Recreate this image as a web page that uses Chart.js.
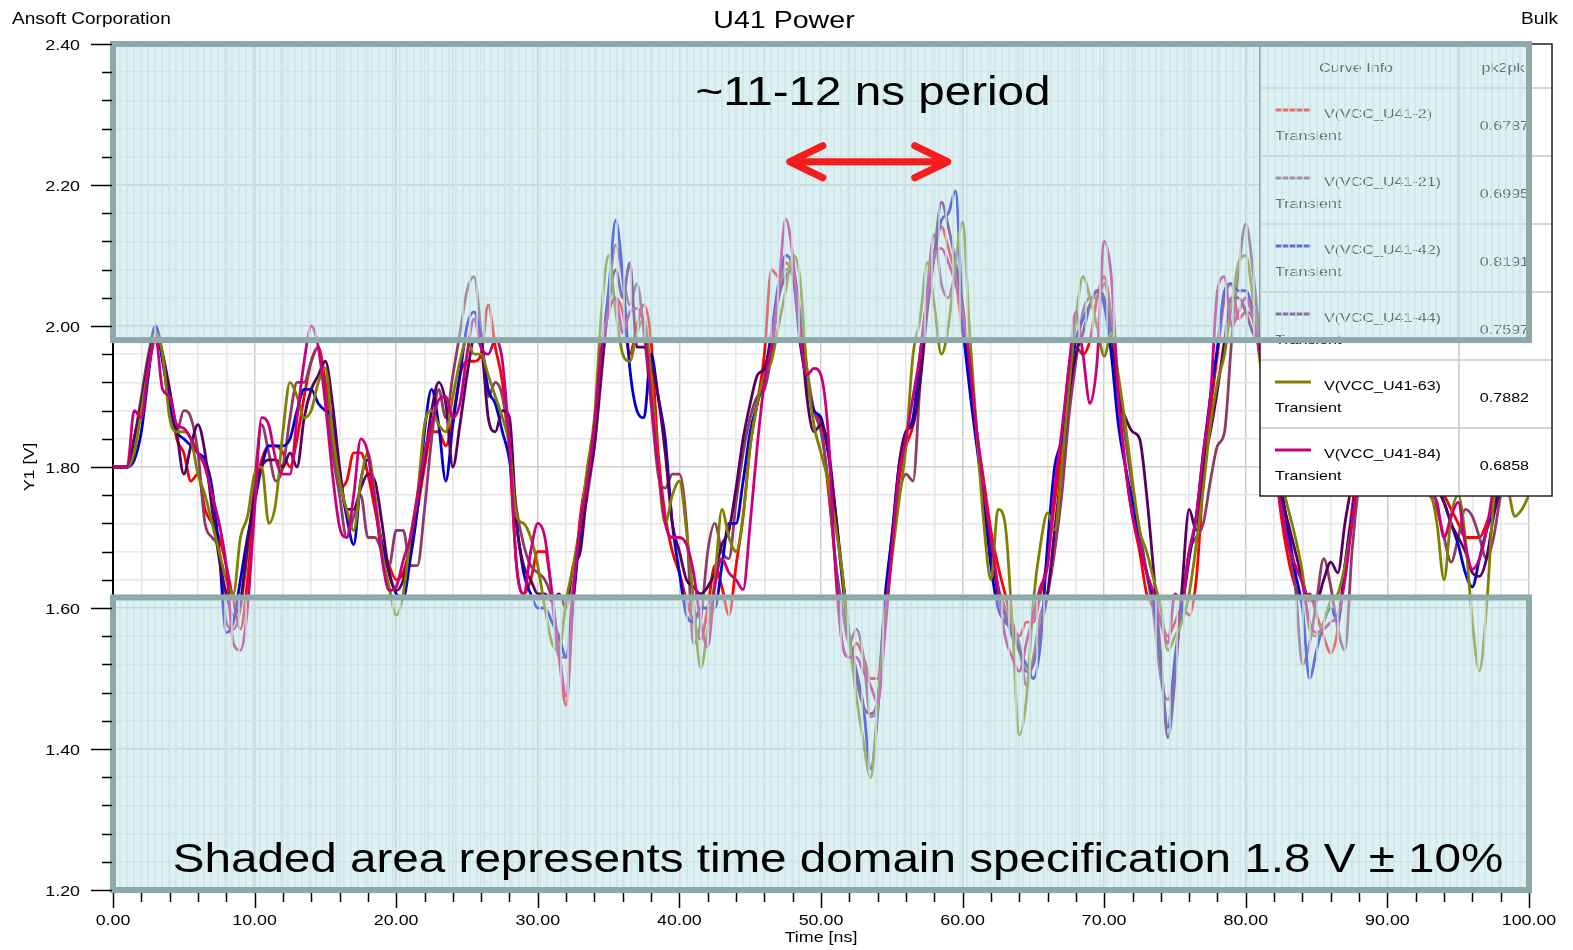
<!DOCTYPE html>
<html>
<head>
<meta charset="utf-8">
<title>U41 Power</title>
<script src="https://cdn.jsdelivr.net/npm/chart.js@4.4.1/dist/chart.umd.min.js"></script>
<style>
  html, body { margin: 0; padding: 0; background: #fff; }
  #wrap { width: 1573px; height: 950px; position: relative; }
</style>
</head>
<body>
<div id="wrap"><canvas id="myChart"></canvas></div>
<script>
// time base, ns (0.5 ns steps)
const times = Array.from({length: 201}, (_, i) => i * 0.5)

// V(VCC_U41-2)
const vcc2 = [
  1.80,1.80,1.80,1.84,1.89,1.94,1.98,1.96,1.90,1.84,
  1.82,1.78,1.79,1.74,1.72,1.70,1.66,1.61,1.57,1.64,
  1.76,1.81,1.83,1.83,1.82,1.80,1.84,1.90,1.95,1.97,
  1.92,1.84,1.77,1.78,1.82,1.82,1.79,1.74,1.69,1.66,
  1.64,1.65,1.69,1.74,1.80,1.85,1.85,1.83,1.87,1.93,
  1.95,1.95,1.96,2.03,1.97,1.92,1.82,1.66,1.62,1.64,
  1.68,1.68,1.62,1.53,1.462,1.61,1.73,1.79,1.86,1.96,
  2.02,2.04,2.02,1.96,2.00,2.03,1.98,1.82,1.73,1.68,
  1.65,1.61,1.58,1.556,1.60,1.66,1.63,1.59,1.66,1.73,
  1.83,1.89,1.96,2.08,2.07,2.09,2.07,2.00,1.93,1.88,
  1.86,1.77,1.67,1.55,1.53,1.55,1.53,1.50,1.50,1.60,
  1.70,1.78,1.83,1.86,1.94,2.03,2.10,2.1407,2.11,2.07,
  1.99,1.94,1.85,1.78,1.71,1.66,1.62,1.58,1.56,1.58,
  1.58,1.62,1.67,1.75,1.83,1.94,1.97,1.96,1.98,2.04,
  2.07,2.01,1.90,1.80,1.73,1.68,1.62,1.60,1.58,1.56,
  1.58,1.60,1.59,1.64,1.78,1.88,1.96,2.04,2.06,2.01,
  2.02,2.01,1.97,1.90,1.82,1.73,1.67,1.63,1.61,1.62,
  1.59,1.56,1.536,1.57,1.66,1.74,1.82,1.88,1.92,1.94,
  1.94,1.92,1.88,1.84,1.80,1.78,1.77,1.77,1.76,1.74,
  1.72,1.70,1.70,1.70,1.72,1.75,1.79,1.81,1.82,1.82,
  1.81]

// V(VCC_U41-21)
const vcc21 = [
  1.80,1.80,1.80,1.84,1.90,1.96,2.00,1.96,1.88,1.85,
  1.88,1.87,1.82,1.72,1.70,1.68,1.58,1.57,1.60,1.68,
  1.78,1.86,1.82,1.78,1.80,1.87,1.92,1.92,1.95,1.97,
  1.90,1.82,1.76,1.70,1.73,1.76,1.70,1.70,1.68,1.66,
  1.71,1.71,1.66,1.66,1.74,1.84,1.91,1.87,1.93,1.99,
  2.05,2.07,1.99,1.90,1.92,1.90,1.83,1.74,1.69,1.66,
  1.65,1.64,1.61,1.53,1.53,1.63,1.70,1.76,1.83,1.93,
  2.04,2.115,2.07,2.03,2.06,1.99,1.89,1.79,1.77,1.79,
  1.79,1.72,1.55,1.58,1.68,1.72,1.68,1.67,1.75,1.82,
  1.87,1.90,1.91,1.96,2.04,2.08,2.08,2.02,1.94,1.88,
  1.85,1.78,1.67,1.60,1.55,1.57,1.53,1.4455,1.46,1.58,
  1.69,1.76,1.79,1.78,1.92,2.05,2.13,2.06,2.04,2.07,
  2.01,1.94,1.84,1.75,1.68,1.63,1.60,1.57,1.55,1.49,
  1.53,1.59,1.62,1.68,1.76,1.87,1.95,2.02,2.04,2.04,
  2.06,2.01,1.92,1.84,1.77,1.71,1.65,1.59,1.50,1.47,
  1.52,1.61,1.68,1.70,1.72,1.78,1.83,1.85,1.98,2.08,
  2.145,2.08,1.98,1.90,1.82,1.75,1.69,1.63,1.52,1.55,
  1.61,1.67,1.63,1.57,1.54,1.68,1.78,1.85,1.90,1.93,
  1.94,1.92,1.88,1.84,1.80,1.78,1.76,1.74,1.70,1.665,
  1.70,1.74,1.73,1.70,1.67,1.70,1.76,1.79,1.80,1.81,
  1.81]

// V(VCC_U41-42)
const vcc42 = [
  1.80,1.80,1.80,1.81,1.85,1.93,2.00,1.95,1.89,1.85,
  1.84,1.83,1.82,1.81,1.77,1.68,1.565,1.58,1.64,1.70,
  1.75,1.80,1.83,1.83,1.83,1.84,1.88,1.91,1.91,1.89,
  1.88,1.87,1.79,1.73,1.69,1.78,1.81,1.75,1.69,1.65,
  1.62,1.615,1.67,1.74,1.85,1.91,1.86,1.78,1.86,1.93,
  2.00,2.02,1.98,1.91,1.89,1.85,1.81,1.72,1.65,1.62,
  1.60,1.60,1.58,1.56,1.53,1.61,1.71,1.78,1.86,1.96,
  2.05,2.15,2.07,1.94,1.88,1.87,1.96,1.90,1.84,1.72,
  1.65,1.59,1.58,1.60,1.60,1.60,1.66,1.72,1.72,1.78,
  1.85,1.89,1.93,1.99,2.06,2.10,2.08,1.98,1.92,1.88,
  1.87,1.82,1.74,1.64,1.556,1.51,1.46,1.372,1.45,1.61,
  1.70,1.80,1.85,1.87,1.96,2.04,2.10,2.15,2.16,2.1911,
  2.01,1.91,1.83,1.75,1.66,1.60,1.58,1.57,1.54,1.52,
  1.50,1.55,1.69,1.80,1.84,1.92,1.98,2.01,2.03,2.05,
  2.03,1.96,1.86,1.80,1.75,1.69,1.65,1.61,1.52,1.43,
  1.53,1.60,1.67,1.73,1.82,1.90,1.97,2.05,2.06,2.05,
  2.05,2.02,1.96,1.88,1.81,1.77,1.71,1.65,1.60,1.50,
  1.54,1.58,1.60,1.58,1.66,1.73,1.80,1.86,1.90,1.93,
  1.93,1.91,1.88,1.84,1.81,1.79,1.78,1.77,1.75,1.72,
  1.69,1.65,1.63,1.67,1.71,1.74,1.78,1.80,1.81,1.81,
  1.80]

// V(VCC_U41-44)
const vcc44 = [
  1.80,1.80,1.80,1.84,1.89,1.95,1.99,1.96,1.91,1.85,
  1.79,1.83,1.86,1.82,1.74,1.67,1.62,1.59,1.61,1.69,
  1.76,1.80,1.81,1.81,1.80,1.82,1.80,1.87,1.91,1.93,
  1.95,1.89,1.80,1.74,1.74,1.77,1.79,1.78,1.72,1.65,
  1.625,1.64,1.69,1.75,1.81,1.88,1.92,1.89,1.80,1.86,
  1.93,1.98,1.97,1.87,1.85,1.88,1.87,1.72,1.66,1.64,
  1.62,1.62,1.61,1.62,1.60,1.66,1.68,1.77,1.83,1.94,
  2.03,2.08,2.04,2.09,1.97,1.97,1.95,1.90,1.82,1.72,
  1.68,1.64,1.63,1.62,1.63,1.65,1.69,1.71,1.77,1.84,
  1.89,1.93,1.94,1.98,2.04,2.07,2.08,2.01,1.90,1.85,
  1.86,1.83,1.74,1.65,1.56,1.50,1.46,1.45,1.47,1.58,
  1.69,1.80,1.85,1.86,1.92,2.02,2.10,2.1757,2.14,2.09,
  2.03,1.94,1.84,1.76,1.69,1.62,1.59,1.56,1.54,1.51,
  1.52,1.57,1.62,1.71,1.80,1.90,1.96,1.99,2.03,2.05,
  2.04,1.99,1.90,1.87,1.85,1.84,1.76,1.65,1.53,1.416,
  1.50,1.63,1.74,1.71,1.80,1.85,1.91,1.98,2.04,2.04,
  2.02,1.99,1.97,1.90,1.82,1.76,1.72,1.68,1.64,1.61,
  1.61,1.64,1.665,1.65,1.72,1.78,1.85,1.90,1.93,1.95,
  1.95,1.93,1.90,1.86,1.83,1.80,1.78,1.77,1.75,1.72,
  1.70,1.68,1.65,1.645,1.67,1.73,1.77,1.80,1.81,1.82,
  1.82]

// V(VCC_U41-63)
const vcc63 = [
  1.80,1.80,1.80,1.82,1.88,1.94,1.99,1.96,1.87,1.85,
  1.85,1.84,1.79,1.76,1.72,1.68,1.64,1.62,1.70,1.73,
  1.79,1.80,1.72,1.75,1.85,1.92,1.90,1.87,1.88,1.92,
  1.94,1.85,1.78,1.74,1.71,1.78,1.82,1.76,1.68,1.63,
  1.59,1.62,1.70,1.76,1.86,1.88,1.86,1.85,1.90,1.95,
  1.98,1.96,1.96,1.93,1.90,1.87,1.83,1.73,1.72,1.70,
  1.66,1.60,1.55,1.54,1.61,1.66,1.72,1.80,1.87,2.02,
  2.10,2.02,1.96,1.95,1.99,2.01,1.93,1.80,1.72,1.76,
  1.78,1.71,1.61,1.515,1.57,1.64,1.74,1.70,1.68,1.73,
  1.83,1.89,1.93,1.95,2.00,2.05,2.10,2.07,1.94,1.86,
  1.82,1.78,1.72,1.65,1.556,1.474,1.41,1.359,1.46,1.58,
  1.67,1.75,1.83,1.96,2.01,2.09,2.03,1.96,2.00,2.09,
  2.1472,1.99,1.85,1.72,1.64,1.74,1.72,1.58,1.42,1.47,
  1.61,1.69,1.735,1.71,1.80,1.91,2.01,2.07,2.04,2.00,
  1.957,1.99,1.93,1.86,1.78,1.71,1.68,1.64,1.60,1.54,
  1.56,1.58,1.62,1.69,1.77,1.86,1.92,1.96,2.03,2.09,
  2.10,2.04,1.95,1.88,1.82,1.78,1.74,1.70,1.65,1.57,
  1.56,1.58,1.61,1.62,1.66,1.72,1.79,1.85,1.90,1.93,
  1.94,1.92,1.89,1.85,1.81,1.79,1.77,1.72,1.64,1.73,
  1.76,1.70,1.58,1.511,1.60,1.75,1.79,1.77,1.73,1.74,
  1.76]

// V(VCC_U41-84)
const vcc84 = [
  1.80,1.80,1.80,1.88,1.87,1.94,1.985,1.91,1.90,1.86,
  1.855,1.84,1.82,1.80,1.76,1.72,1.66,1.55,1.54,1.60,
  1.74,1.87,1.86,1.81,1.79,1.79,1.87,1.95,2.00,1.97,
  1.89,1.79,1.715,1.70,1.76,1.84,1.82,1.75,1.67,1.625,
  1.63,1.668,1.70,1.76,1.82,1.86,1.895,1.90,1.87,1.89,
  1.96,2.01,1.97,1.96,1.98,1.95,1.83,1.66,1.62,1.68,
  1.72,1.70,1.62,1.54,1.475,1.62,1.72,1.78,1.86,1.97,
  2.02,2.04,1.99,2.02,2.025,2.00,1.90,1.80,1.72,1.70,
  1.70,1.69,1.65,1.58,1.545,1.63,1.67,1.65,1.64,1.626,
  1.72,1.83,1.92,1.97,2.05,2.152,2.10,1.99,1.93,1.94,
  1.93,1.85,1.66,1.55,1.53,1.53,1.51,1.49,1.4662,1.56,
  1.68,1.79,1.84,1.90,1.96,2.04,2.10,2.11,2.09,2.06,
  2.02,1.95,1.85,1.77,1.70,1.63,1.56,1.53,1.51,1.55,
  1.59,1.63,1.66,1.77,1.85,1.94,2.02,1.96,1.89,1.95,
  2.12,2.07,1.90,1.80,1.73,1.69,1.65,1.62,1.58,1.55,
  1.62,1.61,1.68,1.73,1.82,1.90,2.05,2.07,2.00,2.02,
  2.04,2.01,1.96,1.89,1.81,1.74,1.69,1.66,1.634,1.58,
  1.565,1.57,1.58,1.59,1.64,1.72,1.79,1.85,1.90,1.92,
  1.93,1.91,1.88,1.84,1.81,1.78,1.77,1.75,1.70,1.73,
  1.75,1.69,1.655,1.67,1.71,1.77,1.80,1.81,1.80,1.79,
  1.79]

const curveNames = ['V(VCC_U41-2)', 'V(VCC_U41-21)', 'V(VCC_U41-42)', 'V(VCC_U41-44)', 'V(VCC_U41-63)', 'V(VCC_U41-84)']
const curveColors = ['#ff0000', '#8c3c66', '#0000cd', '#55005f', '#808000', '#c8007d']
const curveData = [vcc2, vcc21, vcc42, vcc44, vcc63, vcc84]

// spec window 1.8 V +/- 10 %
const specLow = 1.615
const specHigh = 1.98
// arrow marking one period
const periodFrom = 47.8
const periodTo = 58.95
const periodLevel = 2.233

const FONT = '"Liberation Sans", Arial, sans-serif'
const WIDE = 1.19

function txt(ctx, s, x, y, size, align, color) {
  ctx.save()
  ctx.font = size + 'px ' + FONT
  ctx.fillStyle = color || '#000'
  ctx.textAlign = align || 'left'
  ctx.textBaseline = 'alphabetic'
  ctx.translate(x, y)
  ctx.scale(WIDE, 1)
  ctx.fillText(s, 0, 0)
  ctx.restore()
}

function onStep(v, step) {
  const r = v / step
  return Math.abs(r - Math.round(r)) < 1e-6
}

function pk2pk(arr) {
  return (Math.max(...arr) - Math.min(...arr)).toFixed(4)
}

let stripes = null
function stripePattern(ctx) {
  if (stripes) return stripes
  const c = document.createElement('canvas')
  c.width = 7; c.height = 4
  const p = c.getContext('2d')
  p.fillStyle = 'rgba(200,230,232,0.7)'
  p.fillRect(0, 0, 2, 4)
  stripes = ctx.createPattern(c, 'repeat')
  return stripes
}

function drawLegend(ctx) {
  const L = 1260, R = 1552, T = 44, head = 44, row = 68, split = 1459
  const H = head + row * curveNames.length
  ctx.save()
  ctx.fillStyle = '#fff'
  ctx.fillRect(L, T, R - L, H)
  ctx.strokeStyle = '#c8c8c8'
  ctx.lineWidth = 1.5
  ctx.beginPath()
  for (let k = 0; k < curveNames.length; k++) {
    const y = T + head + row * k
    ctx.moveTo(L, y); ctx.lineTo(R, y)
  }
  ctx.moveTo(split, T); ctx.lineTo(split, T + H)
  ctx.stroke()
  ctx.strokeStyle = '#222'
  ctx.strokeRect(L, T, R - L, H)

  txt(ctx, 'Curve Info', 1356, T + 27.5, 13.5, 'center')
  txt(ctx, 'pk2pk', 1503, T + 27.5, 13.5, 'center')
  curveNames.forEach((name, i) => {
    const top = T + head + row * i
    ctx.strokeStyle = curveColors[i]
    ctx.lineWidth = 3
    ctx.beginPath()
    ctx.moveTo(1275, top + 22); ctx.lineTo(1311, top + 22)
    ctx.stroke()
    txt(ctx, name, 1324, top + 29.5, 13.5, 'left')
    txt(ctx, 'Transient', 1275, top + 51.5, 13.5, 'left')
    txt(ctx, pk2pk(curveData[i]), 1529, top + 41.5, 13.5, 'right')
  })
  ctx.restore()
}

function drawSpecBoxes(chart) {
  const {ctx, scales: {x, y}} = chart
  const left = x.getPixelForValue(0), right = x.getPixelForValue(100)
  const bands = [[specHigh, 2.4], [1.2, specLow]]
  ctx.save()
  bands.forEach(([lo, hi]) => {
    const top = y.getPixelForValue(hi), bottom = y.getPixelForValue(lo)
    ctx.fillStyle = 'rgba(190,225,230,0.5)'
    ctx.fillRect(left, top, right - left, bottom - top)
    ctx.fillStyle = stripePattern(ctx)
    ctx.fillRect(left, top, right - left, bottom - top)
    ctx.strokeStyle = '#8fa9aa'
    ctx.lineWidth = 6
    ctx.strokeRect(left, top, right - left, bottom - top)
  })
  ctx.restore()
}

function drawNotes(chart) {
  const {ctx, scales: {x, y}} = chart
  txt(ctx, '~11-12 ns period', 873, 105, 40, 'center')

  const x1 = x.getPixelForValue(periodFrom), x2 = x.getPixelForValue(periodTo)
  const py = y.getPixelForValue(periodLevel)
  ctx.save()
  ctx.strokeStyle = '#f41c1c'
  ctx.lineWidth = 7
  ctx.lineCap = 'round'
  ctx.lineJoin = 'round'
  ctx.beginPath()
  ctx.moveTo(x1, py); ctx.lineTo(x2, py)
  ctx.moveTo(x1 + 33, py - 16); ctx.lineTo(x1, py); ctx.lineTo(x1 + 33, py + 16)
  ctx.moveTo(x2 - 33, py - 16); ctx.lineTo(x2, py); ctx.lineTo(x2 - 33, py + 16)
  ctx.stroke()
  ctx.restore()

  txt(ctx, 'Shaded area represents time domain specification 1.8 V \u00b1 10%', 838, 872, 40, 'center')
}

function drawAxes(chart) {
  const {ctx, scales: {x, y}} = chart
  ctx.save()
  ctx.strokeStyle = '#000'
  ctx.lineWidth = 1.5
  ctx.beginPath()
  y.ticks.forEach(t => {
    const py = Math.round(y.getPixelForValue(t.value)) + 0.5
    const major = onStep(t.value, 0.2)
    ctx.moveTo(major ? 91 : 102, py); ctx.lineTo(112, py)
  })
  x.ticks.forEach(t => {
    const px = Math.round(x.getPixelForValue(t.value)) + 0.5
    const major = onStep(t.value, 10)
    ctx.moveTo(px, 893); ctx.lineTo(px, major ? 908 : 902)
  })
  ctx.stroke()
  ctx.restore()

  y.ticks.forEach(t => {
    if (onStep(t.value, 0.2)) txt(ctx, t.value.toFixed(2), 80, y.getPixelForValue(t.value) + 5.5, 15, 'right')
  })
  x.ticks.forEach(t => {
    if (onStep(t.value, 10)) txt(ctx, t.value.toFixed(2), x.getPixelForValue(t.value), 925, 15, 'center')
  })
  txt(ctx, 'Time [ns]', (x.left + x.right) / 2, 942, 15, 'center')

  ctx.save()
  ctx.font = '15px ' + FONT
  ctx.fillStyle = '#000'
  ctx.textAlign = 'center'
  ctx.textBaseline = 'middle'
  ctx.translate(30, (y.top + y.bottom) / 2)
  ctx.rotate(-Math.PI / 2)
  ctx.scale(WIDE, 1)
  ctx.fillText('Y1 [V]', 0, 0)
  ctx.restore()

  txt(ctx, 'Ansoft Corporation', 12, 24, 16, 'left')
  txt(ctx, 'U41 Power', 784, 28, 24, 'center')
  txt(ctx, 'Bulk', 1558, 24, 16, 'right')
}

const decor = {
  id: 'decor',
  beforeDraw(chart) {
    const ctx = chart.ctx
    ctx.save()
    ctx.fillStyle = '#fff'
    ctx.fillRect(0, 0, chart.width, chart.height)
    ctx.restore()
  },
  afterDatasetsDraw(chart) {
    drawLegend(chart.ctx)
    drawSpecBoxes(chart)
    drawNotes(chart)
  },
  afterDraw(chart) {
    drawAxes(chart)
  }
}

const gridOf = step => ({
  color: c => onStep(c.tick.value, step) ? '#cdcdcd' : '#e6e6e6',
  lineWidth: 1.5,
  drawTicks: false
})

const config = {
  type: 'line',
  data: {
    datasets: curveData.map((vals, i) => ({
      label: curveNames[i],
      data: vals.map((v, k) => ({x: times[k], y: v})),
      borderColor: curveColors[i],
      backgroundColor: curveColors[i],
      borderWidth: 2.8,
      pointRadius: 0,
      cubicInterpolationMode: 'monotone',
      order: curveData.length - i
    }))
  },
  options: {
    responsive: true,
    maintainAspectRatio: false,
    animation: false,
    events: [],
    layout: { padding: { left: 113, top: 44, right: 44, bottom: 60 } },
    plugins: {
      legend: { display: false },
      title: { display: false },
      tooltip: { enabled: false }
    },
    scales: {
      x: {
        type: 'linear',
        min: 0,
        max: 100,
        ticks: { display: false, stepSize: 2 },
        grid: gridOf(10),
        border: { color: '#000', width: 1.5 },
        afterFit: s => { s.height = 0 }
      },
      y: {
        type: 'linear',
        min: 1.2,
        max: 2.4,
        ticks: { display: false, stepSize: 0.04 },
        grid: gridOf(0.2),
        border: { color: '#000', width: 2 },
        afterFit: s => { s.width = 0 }
      }
    }
  },
  plugins: [decor]
}

const myChart = new Chart(document.getElementById('myChart'), config)
</script>
</body>
</html>
